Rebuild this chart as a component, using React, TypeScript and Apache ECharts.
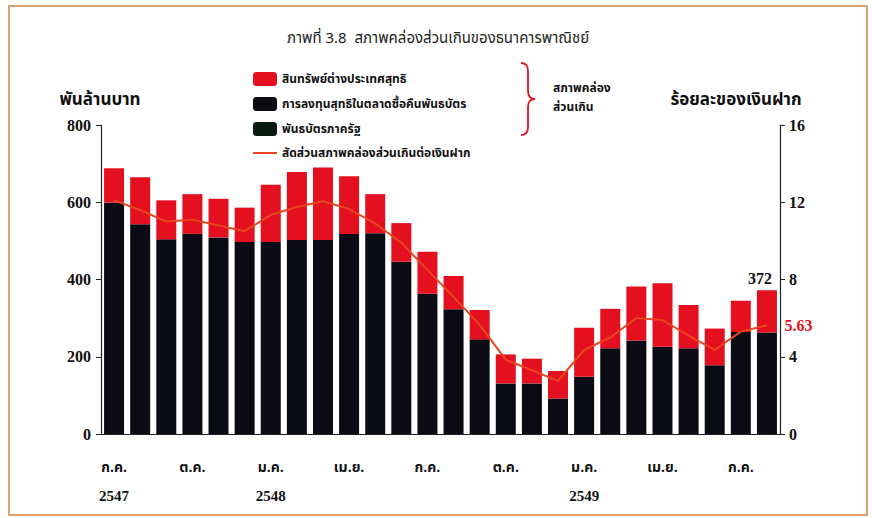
import React, { useEffect, useRef } from "react";
import * as echarts from "echarts";

const categories = [
  "ก.ค. 2547", "ส.ค. 2547", "ก.ย. 2547", "ต.ค. 2547", "พ.ย. 2547", "ธ.ค. 2547",
  "ม.ค. 2548", "ก.พ. 2548", "มี.ค. 2548", "เม.ย. 2548", "พ.ค. 2548", "มิ.ย. 2548",
  "ก.ค. 2548", "ส.ค. 2548", "ก.ย. 2548", "ต.ค. 2548", "พ.ย. 2548", "ธ.ค. 2548",
  "ม.ค. 2549", "ก.พ. 2549", "มี.ค. 2549", "เม.ย. 2549", "พ.ค. 2549", "มิ.ย. 2549",
  "ก.ค. 2549", "ส.ค. 2549",
];

// พันล้านบาท — bottom black segment
const domesticBlack = [
  599, 543, 504, 518, 509, 497, 497, 502, 502, 518, 520, 446, 363, 323, 245, 131,
  131, 92, 148, 222, 242, 226, 222, 178, 264, 263,
];
// พันล้านบาท — red top segment (สินทรัพย์ต่างประเทศสุทธิ)
const foreignRed = [
  89, 122, 101, 103, 100, 89, 148, 176, 188, 149, 101, 100, 109, 86, 76, 75, 64,
  71, 127, 102, 140, 164, 112, 95, 81, 109,
];
// ร้อยละของเงินฝาก
const ratioLine = [
  12.1, 11.6, 11.0, 11.1, 10.8, 10.5, 11.35, 11.75, 12.05, 11.65, 10.9, 9.9, 8.5,
  7.1, 5.65, 3.85, 3.3, 2.75, 4.35, 5.0, 6.0, 5.9, 5.1, 4.35, 5.3, 5.63,
];

const leftTicks = { min: 0, max: 800, interval: 200 };
const rightTicks = { min: 0, max: 16, interval: 4 };

const NAME_RED = "สินทรัพย์ต่างประเทศสุทธิ";
const NAME_REPO = "การลงทุนสุทธิในตลาดซื้อคืนพันธบัตร";
const NAME_BOND = "พันธบัตรภาครัฐ";
const NAME_LINE = "สัดส่วนสภาพคล่องส่วนเกินต่อเงินฝาก";

const THAI = "'Noto Sans Thai', 'Noto Sans Thai UI', 'Noto Sans', 'DejaVu Sans', sans-serif";
const SERIF = "'Liberation Serif', 'Times New Roman', serif";

const braceD = "M0,0 Q7,0 7,8 L7,28 Q7,36 14,36 Q7,36 7,44 L7,64 Q7,72 0,72";

let braceRegistered = false;

export default function App() {
  const ref = useRef<HTMLDivElement>(null);

  useEffect(() => {
    document.body.style.margin = "0";
    if (!braceRegistered) {
      echarts.graphic.registerShape("brace", echarts.graphic.extendPath(braceD, {}));
      braceRegistered = true;
    }
    const chart = echarts.init(ref.current!, null, { renderer: "svg" });
    const lastIdx = categories.length - 1;
    chart.setOption({
      animation: false,
      backgroundColor: "#ffffff",
      grid: { left: 101, right: 92, top: 125, bottom: 84 },
      legend: {
        orient: "vertical",
        left: 247,
        top: 67,
        itemWidth: 24,
        itemHeight: 14,
        itemGap: 11,
        selectedMode: false,
        textStyle: { fontFamily: THAI, fontSize: 12, fontWeight: "bold", color: "#111" },
        data: [
          NAME_RED,
          NAME_REPO,
          NAME_BOND,
          { name: NAME_LINE, itemStyle: { opacity: 0 } },
        ],
      },
      xAxis: {
        type: "category",
        data: categories,
        boundaryGap: true,
        axisLine: { lineStyle: { color: "#222", width: 1.2 } },
        axisTick: {
          length: 5,
          lineStyle: { color: "#222" },
          interval: (i: number) => i % 3 === 0,
        },
        axisLabel: {
          interval: (i: number) => i % 3 === 0,
          margin: 22,
          formatter: (v: string, i: number) => {
            const [m, y] = v.split(" ");
            return i === 0 || m === "ม.ค." ? `{m|${m}}\n{y|${y}}` : `{m|${m}}`;
          },
          rich: {
            m: { fontFamily: THAI, fontSize: 14, fontWeight: "bold", color: "#111", lineHeight: 22 },
            y: { fontFamily: SERIF, fontSize: 15, fontWeight: "bold", color: "#111", lineHeight: 36 },
          },
        },
      },
      yAxis: [
        {
          type: "value",
          ...leftTicks,
          position: "left",
          axisLine: { show: true, lineStyle: { color: "#222", width: 1.2 } },
          axisTick: { show: true, length: 5, lineStyle: { color: "#222" } },
          splitLine: { show: false },
          axisLabel: { margin: 10, fontFamily: SERIF, fontSize: 16, fontWeight: "bold", color: "#111" },
        },
        {
          type: "value",
          ...rightTicks,
          position: "right",
          axisLine: { show: true, lineStyle: { color: "#222", width: 1.2 } },
          axisTick: { show: true, length: 5, lineStyle: { color: "#222" } },
          splitLine: { show: false },
          axisLabel: { margin: 9, fontFamily: SERIF, fontSize: 16, fontWeight: "bold", color: "#111" },
        },
      ],
      series: [
        {
          name: NAME_REPO,
          type: "bar",
          stack: "liq",
          barWidth: 20,
          itemStyle: { color: "#0b0b16" },
          data: domesticBlack,
        },
        {
          name: NAME_BOND,
          type: "bar",
          stack: "liq",
          barWidth: 20,
          itemStyle: { color: "#0a1a10" },
          data: [],
        },
        {
          name: NAME_RED,
          type: "bar",
          stack: "liq",
          barWidth: 20,
          itemStyle: { color: "#e5101f" },
          data: foreignRed.map((v, i) =>
            i === lastIdx
              ? {
                  value: v,
                  label: {
                    show: true,
                    position: "top",
                    distance: 4,
                    offset: [-7, 0],
                    formatter: () => String(domesticBlack[i] + foreignRed[i]),
                    fontFamily: SERIF,
                    fontSize: 16,
                    fontWeight: "bold",
                    color: "#111",
                  },
                }
              : v
          ),
        },
        {
          name: NAME_LINE,
          type: "line",
          yAxisIndex: 1,
          symbol: "circle",
          symbolSize: 1,
          itemStyle: { color: "#e8461f" },
          lineStyle: { color: "#e8461f", width: 2 },
          z: 5,
          data: ratioLine.map((v, i) =>
            i === lastIdx
              ? {
                  value: v,
                  label: {
                    show: true,
                    position: "right",
                    distance: 17,
                    formatter: () => ratioLine[i].toFixed(2),
                    fontFamily: SERIF,
                    fontSize: 16,
                    fontWeight: "bold",
                    color: "#e5101f",
                  },
                }
              : v
          ),
        },
      ],
      graphic: [
        {
          type: "rect",
          shape: { x: 9, y: 6, width: 858, height: 509 },
          style: { fill: "none", stroke: "#d9a070", lineWidth: 2 },
          silent: true,
          z: -1,
        },
        {
          type: "text",
          x: 438,
          y: 38,
          style: {
            text: "ภาพที่ 3.8  สภาพคล่องส่วนเกินของธนาคารพาณิชย์",
            fontFamily: THAI,
            fontSize: 15,
            fill: "#222",
            align: "center",
            verticalAlign: "middle",
          },
        },
        {
          type: "text",
          x: 100,
          y: 100,
          style: {
            text: "พันล้านบาท",
            fontFamily: THAI,
            fontSize: 17,
            fontWeight: "bold",
            fill: "#111",
            align: "center",
            verticalAlign: "middle",
          },
        },
        {
          type: "text",
          x: 736,
          y: 100,
          style: {
            text: "ร้อยละของเงินฝาก",
            fontFamily: THAI,
            fontSize: 17,
            fontWeight: "bold",
            fill: "#111",
            align: "center",
            verticalAlign: "middle",
          },
        },
        {
          type: "brace",
          x: 521,
          y: 63,
          style: { fill: "none", stroke: "#e5101f", lineWidth: 1.8 },
        },
        {
          type: "text",
          x: 553,
          y: 88,
          style: {
            text: "สภาพคล่อง",
            fontFamily: THAI,
            fontSize: 12,
            fontWeight: "bold",
            fill: "#111",
            verticalAlign: "middle",
          },
        },
        {
          type: "text",
          x: 553,
          y: 107,
          style: {
            text: "ส่วนเกิน",
            fontFamily: THAI,
            fontSize: 12,
            fontWeight: "bold",
            fill: "#111",
            verticalAlign: "middle",
          },
        },
      ],
    });
    return () => chart.dispose();
  }, []);

  return <div ref={ref} style={{ width: 872, height: 518 }} />;
}
